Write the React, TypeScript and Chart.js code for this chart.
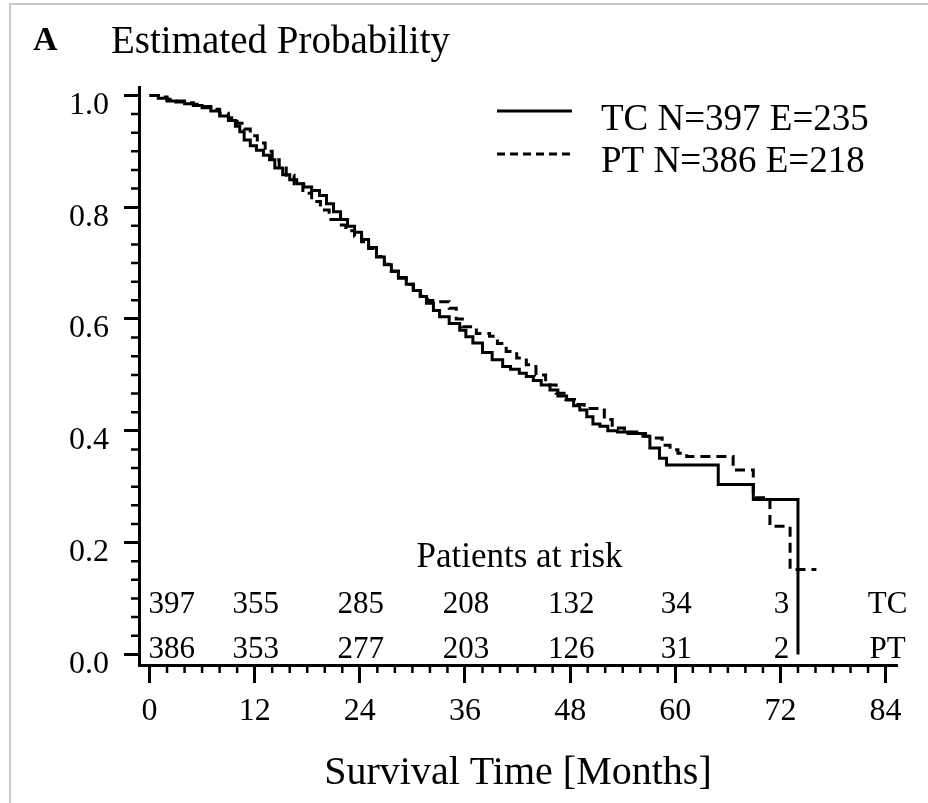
import React, { useEffect, useRef } from 'react';
import { Chart, registerables } from 'chart.js';

Chart.register(...registerables);

// ---- Data ----
const TC_MONTHS = [0, 1, 2, 3, 4, 5, 6, 7, 8, 9, 9.8, 10.3, 10.8, 11.5, 12.2, 13, 13.7, 14.3, 15.2, 16, 16.8, 17.6, 18.5, 19.4, 20.2, 21, 21.8, 22.6, 23.4, 24.2, 25, 25.9, 26.8, 27.6, 28.4, 29.3, 30.1, 30.9, 31.6, 32.4, 33.1, 34.2, 35.4, 36.1, 36.9, 38, 39.1, 40.3, 41.2, 42.2, 43, 43.8, 44.7, 45.7, 46.6, 47.6, 48.4, 49.1, 49.9, 50.6, 51.4, 52.3, 53.4, 54.6, 56.3, 57.1, 58.2, 59, 64.9, 68.9, 74];
const TC_SURV = [1.0, 0.995, 0.99, 0.988, 0.985, 0.982, 0.978, 0.972, 0.963, 0.955, 0.945, 0.935, 0.92, 0.91, 0.902, 0.893, 0.885, 0.87, 0.858, 0.849, 0.842, 0.836, 0.83, 0.821, 0.806, 0.792, 0.778, 0.766, 0.755, 0.742, 0.728, 0.711, 0.697, 0.685, 0.673, 0.662, 0.651, 0.64, 0.628, 0.615, 0.604, 0.592, 0.58, 0.568, 0.557, 0.54, 0.527, 0.515, 0.51, 0.503, 0.497, 0.49, 0.482, 0.473, 0.462, 0.455, 0.445, 0.437, 0.425, 0.412, 0.408, 0.4, 0.398, 0.395, 0.39, 0.369, 0.351, 0.339, 0.304, 0.277, 0.0];

const PT_MONTHS = [0, 1, 2, 3, 4, 5, 6, 7, 8, 9, 10, 10.8, 11.5, 12.3, 13.2, 14, 14.8, 15.6, 16.5, 17.5, 18.5, 19.5, 20.5, 21.5, 22.4, 23.4, 24.2, 25, 25.9, 26.8, 27.6, 28.4, 29.3, 30.1, 30.9, 31.7, 32.7, 34.2, 35, 35.7, 37.3, 38.8, 39.7, 40.7, 41.9, 43, 44.1, 45.2, 46.4, 47.5, 48.5, 49.6, 51.4, 51.9, 52.8, 54.2, 55.6, 56.6, 57.5, 58.5, 59.4, 60.3, 61.3, 66.6, 68.9, 70.8, 73.1, 76.1];
const PT_SURV = [1.0, 0.997, 0.993, 0.99, 0.987, 0.984, 0.98, 0.975, 0.968, 0.96, 0.95, 0.94, 0.928, 0.915, 0.9, 0.885, 0.87, 0.857, 0.842, 0.825, 0.81, 0.795, 0.778, 0.768, 0.758, 0.748, 0.738, 0.726, 0.712, 0.698, 0.686, 0.674, 0.662, 0.651, 0.641, 0.633, 0.631, 0.619, 0.6, 0.586, 0.574, 0.569, 0.556, 0.542, 0.53, 0.518, 0.5, 0.482, 0.467, 0.456, 0.447, 0.44, 0.437, 0.42, 0.405, 0.398, 0.395, 0.39, 0.387, 0.374, 0.366, 0.36, 0.354, 0.33, 0.28, 0.229, 0.152, 0.152];

const RISK_TIMES = [0, 12, 24, 36, 48, 60, 72];
const TC_AT_RISK = [397, 355, 285, 208, 132, 34, 3];
const PT_AT_RISK = [386, 353, 277, 203, 126, 31, 2];
const GROUP_NAMES = ['TC', 'PT'];
const LEGEND_LABELS = ['TC N=397 E=235', 'PT N=386 E=218'];

const X_TICKS = [0, 12, 24, 36, 48, 60, 72, 84];
const Y_TICKS = [0, 0.2, 0.4, 0.6, 0.8, 1.0];

const FONT = '"Liberation Serif", "DejaVu Serif", serif';

const decorPlugin = {
  id: 'kmDecor',
  beforeDraw(chart: any) {
    const ctx = chart.ctx;
    ctx.save();
    ctx.fillStyle = '#ffffff';
    ctx.fillRect(0, 0, chart.width, chart.height);
    ctx.strokeStyle = '#c8c8c8';
    ctx.lineWidth = 2;
    ctx.beginPath();
    ctx.moveTo(10, chart.height);
    ctx.lineTo(10, 4);
    ctx.lineTo(chart.width, 4);
    ctx.stroke();
    ctx.restore();
  },
  afterDraw(chart: any) {
    const ctx = chart.ctx;
    const xs = chart.scales.x;
    const ys = chart.scales.y;
    const { left, bottom } = chart.chartArea;
    ctx.save();
    ctx.strokeStyle = '#000';
    ctx.fillStyle = '#000';

    // minor ticks
    ctx.lineWidth = 2.5;
    ctx.beginPath();
    for (let m = 0; m <= 84; m += 2) {
      if (m % 12 === 0) continue;
      const px = xs.getPixelForValue(m);
      ctx.moveTo(px, bottom);
      ctx.lineTo(px, bottom + 8);
    }
    for (let k = 0; k <= 30; k++) {
      if (k % 6 === 0) continue;
      const py = ys.getPixelForValue(k / 30);
      ctx.moveTo(left, py);
      ctx.lineTo(left - 8, py);
    }
    ctx.stroke();

    // title
    ctx.textBaseline = 'alphabetic';
    ctx.textAlign = 'left';
    ctx.font = `bold 34px ${FONT}`;
    ctx.fillText('A', 33, 50);
    ctx.font = `39px ${FONT}`;
    ctx.fillText('Estimated Probability', 111, 53);

    // legend
    ctx.lineWidth = 3;
    ctx.setLineDash([]);
    ctx.beginPath();
    ctx.moveTo(497, 111);
    ctx.lineTo(572, 111);
    ctx.stroke();
    ctx.setLineDash([8, 5]);
    ctx.beginPath();
    ctx.moveTo(497, 154);
    ctx.lineTo(572, 154);
    ctx.stroke();
    ctx.setLineDash([]);
    ctx.font = `37px ${FONT}`;
    ctx.fillText(LEGEND_LABELS[0], 601, 130);
    ctx.fillText(LEGEND_LABELS[1], 601, 172);

    // patients at risk
    ctx.font = `35px ${FONT}`;
    ctx.textAlign = 'center';
    ctx.fillText('Patients at risk', xs.getPixelForValue(42) + 2, 567);
    ctx.font = `31px ${FONT}`;
    const rows = [TC_AT_RISK, PT_AT_RISK];
    const baselines = [613, 658];
    rows.forEach((row, r) => {
      row.forEach((n, i) => {
        const t = RISK_TIMES[i];
        if (i === 0) {
          ctx.textAlign = 'left';
          ctx.fillText(String(n), xs.getPixelForValue(t) - 1, baselines[r]);
        } else {
          ctx.textAlign = 'center';
          ctx.fillText(String(n), xs.getPixelForValue(t) + 1, baselines[r]);
        }
      });
      ctx.textAlign = 'center';
      ctx.fillText(GROUP_NAMES[r], xs.getPixelForValue(84) + 2, baselines[r]);
    });
    ctx.restore();
  },
};

export default function App() {
  const ref = useRef<HTMLCanvasElement | null>(null);
  useEffect(() => {
    document.body.style.margin = '0';
    const canvas = ref.current;
    if (!canvas) return;
    const chart = new Chart(canvas, {
      type: 'line',
      data: {
        datasets: [
          {
            label: LEGEND_LABELS[0],
            data: TC_MONTHS.map((m, i) => ({ x: m, y: TC_SURV[i] })),
            borderColor: '#000',
            backgroundColor: '#000',
            borderWidth: 3,
            stepped: 'before',
            pointRadius: 0,
            fill: false,
          },
          {
            label: LEGEND_LABELS[1],
            data: PT_MONTHS.map((m, i) => ({ x: m, y: PT_SURV[i] })),
            borderColor: '#000',
            backgroundColor: '#000',
            borderWidth: 3,
            borderDash: [10, 6],
            stepped: 'before',
            pointRadius: 0,
            fill: false,
          },
        ],
      },
      options: {
        responsive: false,
        animation: false,
        devicePixelRatio: 1,
        layout: { padding: { top: 87, right: 31, left: 0, bottom: 0 } },
        plugins: {
          legend: { display: false },
          tooltip: { enabled: false },
          title: { display: false },
        },
        scales: {
          x: {
            type: 'linear',
            min: -1.2,
            max: 85.3,
            afterBuildTicks: (axis: any) => {
              axis.ticks = X_TICKS.map((v) => ({ value: v }));
            },
            afterFit: (axis: any) => {
              axis.height = 138;
            },
            grid: {
              display: true,
              drawOnChartArea: false,
              drawTicks: true,
              tickLength: 18,
              tickWidth: 3,
              tickColor: '#000',
            },
            border: { display: true, color: '#000', width: 3 },
            ticks: {
              autoSkip: false,
              maxRotation: 0,
              padding: 9,
              color: '#000',
              font: { family: FONT, size: 32 },
              callback: (v: any) => String(v),
            },
            title: {
              display: true,
              text: 'Survival Time [Months]',
              color: '#000',
              font: { family: FONT, size: 40 },
              padding: { top: 4, bottom: 6 },
            },
          },
          y: {
            type: 'linear',
            min: -0.019,
            max: 1.015,
            afterBuildTicks: (axis: any) => {
              axis.ticks = Y_TICKS.map((v) => ({ value: v }));
            },
            afterFit: (axis: any) => {
              axis.width = 139;
            },
            grid: {
              display: true,
              drawOnChartArea: false,
              drawTicks: true,
              tickLength: 15,
              tickWidth: 3,
              tickColor: '#000',
            },
            border: { display: true, color: '#000', width: 3 },
            ticks: {
              autoSkip: false,
              padding: 15,
              labelOffset: 10,
              color: '#000',
              font: { family: FONT, size: 32 },
              callback: (v: any) => Number(v).toFixed(1),
            },
          },
        },
      },
      plugins: [decorPlugin],
    });
    return () => chart.destroy();
  }, []);
  return (
    <div style={{ width: 928, height: 803, background: '#fff' }}>
      <canvas ref={ref} width={928} height={803} style={{ display: 'block', width: 928, height: 803 }} />
    </div>
  );
}
